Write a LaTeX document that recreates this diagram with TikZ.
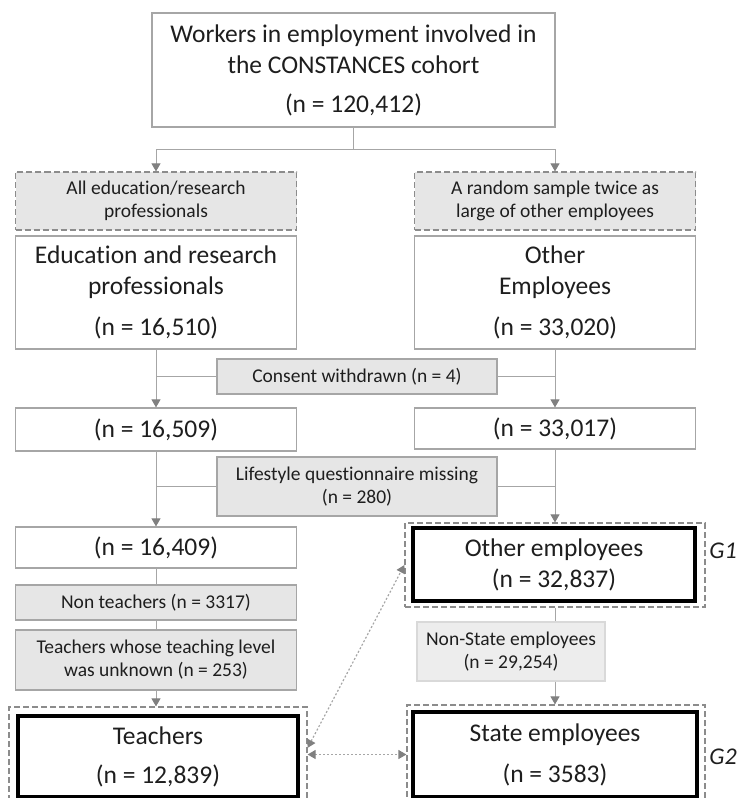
\documentclass[tikz,border=0pt]{standalone}
\usepackage{fontspec}
\setmainfont{Carlito}[Ligatures=NoCommon]
\usetikzlibrary{arrows.meta,calc,positioning}

\definecolor{linegrey}{HTML}{A6A6A6}
\definecolor{tipgrey}{HTML}{808080}
\definecolor{dashgrey}{HTML}{8C8C8C}
\definecolor{fillgrey}{HTML}{E6E6E6}
\definecolor{textgrey}{HTML}{1E1E1E}

\newcommand{\bigtext}{\fontsize{12.75}{15.5}\selectfont}
\newcommand{\smalltext}{\fontsize{9.75}{11.5}\selectfont}

\tikzset{
  box/.style={draw=linegrey, line width=0.6pt, fill=white, align=center,
    inner sep=0pt, text=textgrey, font=\bigtext},
  greybox/.style={draw=linegrey, line width=0.6pt, fill=fillgrey, align=center,
    inner sep=0pt, text=textgrey, font=\smalltext},
  selbox/.style={greybox, draw=dashgrey, dash pattern=on 3pt off 1.5pt},
  keybox/.style={box, draw=black, line width=1.6pt},
  groupbox/.style={draw=dashgrey, line width=0.6pt, dash pattern=on 3pt off 1.5pt,
    inner sep=0pt},
  link/.style={draw=linegrey, line width=0.5pt},
  dots/.style={draw=linegrey, line width=0.6pt, dash pattern=on 1pt off 1pt},
  grouptag/.style={font=\fontsize{12}{14}\selectfont\itshape, text=textgrey,
    anchor=west, inner sep=0pt}
}

\begin{document}
\begin{tikzpicture}[x=0.5pt,y=-0.5pt,
  >={Triangle[length=4pt,width=4.5pt,color=tipgrey]}]

	\useasboundingbox (0,0) rectangle (738,798);

	% Whole cohort
	\node[box, minimum width=201.5pt, minimum height=57pt] (top) at (353.5,70)
	{Workers in employment involved in\\ the CONSTANCES cohort\\[4pt] (n = 120,412)};

	% Sampling
	\node[selbox, minimum width=140.5pt, minimum height=29pt] (sel1) at (156,201)
	{All education/research\\ professionals};
	\node[selbox, minimum width=140.5pt, minimum height=29pt] (sel2) at (555,201)
	{A random sample twice as\\ large of other employees};

	\node[box, minimum width=140.5pt, minimum height=56.5pt] (edu) at (156,292.5)
	{Education and research\\ professionals\\[5pt] (n = 16,510)};
	\node[box, minimum width=140.5pt, minimum height=56.5pt] (oth) at (555,292.5)
	{Other\\ Employees\\[5pt] (n = 33,020)};

	% Exclusions
	\node[greybox, minimum width=140pt, minimum height=17.5pt] (consent) at (357,376.5)
	{Consent withdrawn (n = 4)};

	\node[box, minimum width=140.5pt, minimum height=21.5pt] (n509) at (156,429.5)
	{(n = 16,509)};
	\node[box, minimum width=140.5pt, minimum height=20.5pt] (n017) at (555,428.5)
	{(n = 33,017)};

	\node[greybox, minimum width=140pt, minimum height=29.5pt] (life) at (357,486.5)
	{Lifestyle questionnaire missing\\ (n = 280)};

	\node[box, minimum width=140.5pt, minimum height=20.5pt] (n409) at (156,547.5)
	{(n = 16,409)};

	% Group G1
	\node[groupbox, minimum width=150pt, minimum height=42pt] (g1) at (555,565) {};
	\node[keybox, minimum width=141pt, minimum height=36.5pt] (othemp) at (554,564.5)
	{Other employees\\ (n = 32,837)};
	\node[grouptag] (tag1) at (709,551) {G1};

	\node[greybox, minimum width=140.5pt, minimum height=17.5pt] (nonteach) at (156,602.5)
	{Non teachers (n = 3317)};
	\node[greybox, minimum width=140.5pt, minimum height=30pt] (unknown) at (156,660)
	{Teachers whose teaching level\\ was unknown (n = 253)};

	\node[greybox, draw=fillgrey!80!linegrey, fill=fillgrey!70!white,
	  minimum width=94pt, minimum height=29.5pt] (nonstate) at (511,651.5)
	{Non-State employees\\ (n = 29,254)};

	% Teachers and group G2
	\node[groupbox, minimum width=149pt, minimum height=54pt] (tgrp) at (158,761) {};
	\node[keybox, minimum width=140pt, minimum height=40.5pt] (teach) at (158,756.5)
	{Teachers\\[4pt] (n = 12,839)};

	\node[groupbox, minimum width=149pt, minimum height=55pt] (g2) at (556,760) {};
	\node[keybox, minimum width=142pt, minimum height=42.5pt] (state) at (555,754.5)
	{State employees\\[5pt] (n = 3583)};
	\node[grouptag] (tag2) at (709,757) {G2};

	% Connectors
	\draw[link,->] (top.south) -- ++(0,22) -| (sel1.north);
	\draw[link,->] (top.south) -- ++(0,22) -| (sel2.north);
	\draw[link,->] (edu.south) -- (n509.north);
	\draw[link,->] (oth.south) -- (n017.north);
	\draw[link] (consent.west) -- (consent.west -| edu.south);
	\draw[link] (consent.east) -- (consent.east -| oth.south);
	\draw[link,->] (n509.south) -- (n409.north);
	\draw[link,->] (n017.south) -- (g1.north);
	\draw[link] (life.west) -- (life.west -| n509.south);
	\draw[link] (life.east) -- (life.east -| n017.south);
	\draw[link] (n409.south) -- (nonteach.north);
	\draw[link] (nonteach.south) -- (unknown.north);
	\draw[link,->] (unknown.south) -- (unknown.south |- tgrp.north);
	\draw[link] (g1.south) -- (g1.south |- nonstate.north);
	\draw[link,->] (g1.south |- nonstate.south) -- (g1.south |- g2.north);

	% Comparisons
	\draw[dots,<->] ($(tgrp.north east)!0.38!(tgrp.south east)$) -- (g1.west);
	\draw[dots,<->] (tgrp.east |- state.west) -- (g2.west |- state.west);

\end{tikzpicture}
\end{document}
